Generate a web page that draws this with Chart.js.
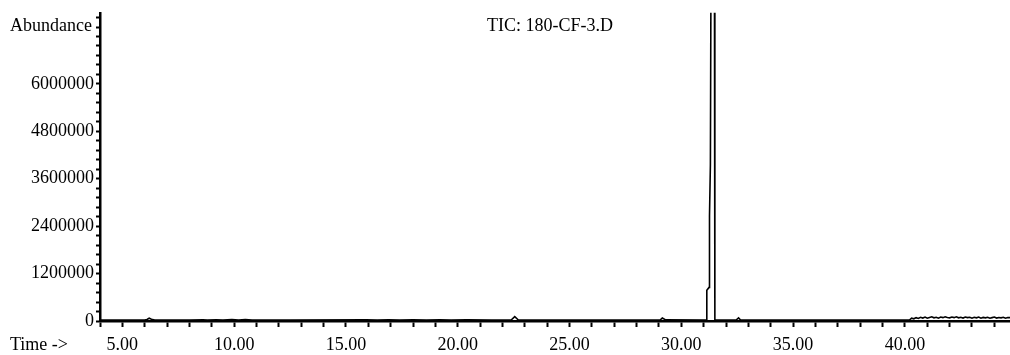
<!DOCTYPE html>
<html>
<head>
<meta charset="utf-8">
<script src="https://cdn.jsdelivr.net/npm/chart.js@4.4.1/dist/chart.umd.min.js"></script>
<style>
  body { margin: 0; background: #fff; }
  #wrap { position: relative; width: 1010px; height: 355px; }
  .lbl { position: absolute; font-family: "Liberation Serif", serif; font-size: 18px; color: #000; white-space: nowrap; line-height: 18px; }
</style>
</head>
<body>
<div id="wrap">
  <canvas id="tic" width="1010" height="355"></canvas>
  <div class="lbl" style="left:10px; top:16px;">Abundance</div>
  <div class="lbl" style="left:487px; top:16px;">TIC: 180-CF-3.D</div>
  <div class="lbl" style="left:10px; top:335px;">Time -&gt;</div>
</div>
<script>
// retention time (min) and total ion abundance
const timeMin = [
  4.00, 5.00, 6.00, 6.10, 6.20, 6.30, 6.45, 8.00, 8.60, 8.80, 9.20, 9.50, 9.90, 10.20, 10.50, 10.80,
  12.50, 15.90, 16.40, 16.90, 17.40, 18.00, 18.60, 19.20, 19.70, 20.40, 21.50, 22.40, 22.55, 22.70,
  25.00, 29.05, 29.15, 29.30,
  31.12, 31.14, 31.24, 31.26, 31.30, 31.33, 31.48, 31.50,
  32.45, 32.56, 32.65, 40.20,
  40.30, 40.40, 40.50, 40.60, 40.70, 40.80, 40.90, 41.00, 41.10, 41.20, 41.30, 41.40, 41.50, 41.60,
  41.70, 41.80, 41.90, 42.00, 42.10, 42.20, 42.30, 42.40, 42.50, 42.60, 42.70, 42.80, 42.90, 43.00,
  43.10, 43.20, 43.30, 43.40, 43.50, 43.60, 43.70, 43.80, 43.90, 44.00, 44.10, 44.20, 44.30, 44.40,
  44.50, 44.60, 44.70
];
const abundance = [
  22000, 24000, 25000, 40000, 70000, 45000, 25000, 22000, 30000, 22000, 32000, 24000, 35000, 26000, 38000, 25000,
  22000, 30000, 24000, 33000, 25000, 31000, 24000, 32000, 25000, 28000, 22000, 30000, 110000, 30000,
  22000, 25000, 75000, 28000,
  25000, 780000, 850000, 2650000, 3950000, 9500000, 9500000, 25000,
  25000, 80000, 26000, 24000,
  70000, 55000, 85000, 65000, 95000, 75000, 100000, 70000, 90000, 105000, 80000, 95000, 70000, 100000,
  85000, 105000, 90000, 80000, 100000, 85000, 105000, 80000, 95000, 75000, 100000, 85000, 95000, 70000,
  95000, 80000, 100000, 70000, 90000, 80000, 95000, 70000, 85000, 100000, 75000, 90000, 80000, 95000,
  70000, 90000, 85000
];

// axis ranges and tick marks
const xMin = 4.0, xMax = 44.7;
const yMin = 0, yMax = 7800000;
const xLabelled = [5, 10, 15, 20, 25, 30, 35, 40];
const yLabelled = [0, 1200000, 2400000, 3600000, 4800000, 6000000];
const xMinorStep = 1, yMinorStep = 240000;

const xTicks = [];
for (let t = 4; t <= 44; t += xMinorStep) xTicks.push(t);
const yTicks = [];
for (let v = 0; v < yMax; v += yMinorStep) yTicks.push(v);

const points = timeMin.map((t, i) => ({ x: t, y: abundance[i] }));

new Chart(document.getElementById('tic'), {
  type: 'line',
  data: {
    datasets: [{
      data: points,
      borderColor: '#000',
      borderWidth: 1.6,
      pointRadius: 0,
      tension: 0,
      fill: false
    }]
  },
  options: {
    responsive: false,
    animation: false,
    layout: { padding: { top: 10, right: 0, left: 0, bottom: 0 } },
    plugins: { legend: { display: false }, tooltip: { enabled: false } },
    scales: {
      x: {
        type: 'linear',
        min: xMin, max: xMax,
        afterBuildTicks: (s) => { s.ticks = xTicks.map(v => ({ value: v })); },
        afterFit: (s) => { s.height = 34; },
        border: { color: '#000', width: 2.5 },
        grid: { drawOnChartArea: false, tickLength: 6, tickColor: '#000', tickWidth: 2 },
        ticks: {
          autoSkip: false,
          maxRotation: 0,
          padding: 7,
          color: '#000',
          font: { family: 'Liberation Serif', size: 18 },
          callback: (v) => (xLabelled.includes(v) ? v.toFixed(2) : '')
        }
      },
      y: {
        min: yMin, max: yMax,
        afterBuildTicks: (s) => { s.ticks = yTicks.map(v => ({ value: v })); },
        afterFit: (s) => { s.width = 100; },
        border: { color: '#000', width: 2.5 },
        grid: { drawOnChartArea: false, tickLength: 4, tickColor: '#000', tickWidth: 2 },
        ticks: {
          autoSkip: false,
          padding: 2,
          color: '#000',
          font: { family: 'Liberation Serif', size: 18 },
          callback: (v) => (yLabelled.includes(v) ? String(v) : '')
        }
      }
    }
  }
});
</script>
</body>
</html>
